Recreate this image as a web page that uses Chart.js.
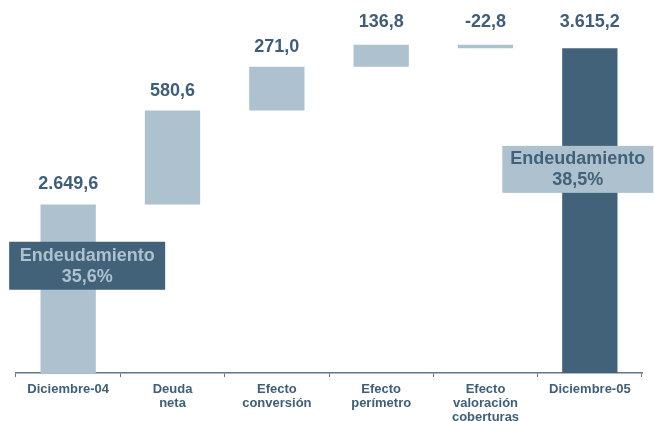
<!DOCTYPE html>
<html>
<head>
<meta charset="utf-8">
<script src="https://cdn.jsdelivr.net/npm/chart.js@4"></script>
<style>
  html, body { margin: 0; padding: 0; background: #fff; }
  #wrap { width: 654px; height: 421px; position: relative; }
</style>
</head>
<body>
<div id="wrap"><canvas id="deudaChart"></canvas></div>
<script>
/* DATA */
var categories = [
  "Diciembre-04",
  ["Deuda", "neta"],
  ["Efecto", "conversión"],
  ["Efecto", "perímetro"],
  ["Efecto", "valoración", "coberturas"],
  "Diciembre-05"
];
var startValue = 2649.6;
var deltas = [580.6, 271.0, 136.8, -22.8];
var endValue = 3615.2;
var ratioLabels = [["Endeudamiento", "35,6%"], ["Endeudamiento", "38,5%"]];

var LIGHT = "#adc1cf";
var DARK = "#426279";
var TEXT = "#3f5f78";

// build floating bars [low, high] from the running total
var bars = [[0, startValue]];
var shown = [startValue];
var total = startValue;
deltas.forEach(function (d) {
  bars.push([total, total + d]);
  shown.push(d);
  total += d;
});
bars.push([0, endValue]);
shown.push(endValue);
var barColors = bars.map(function (b, i) {
  return i === bars.length - 1 ? DARK : LIGHT;
});

// spanish number format: 2.649,6
function fmt(v) {
  var neg = v < 0;
  var parts = Math.abs(v).toFixed(1).split(".");
  var intPart = parts[0].replace(/\B(?=(\d{3})+(?!\d))/g, ".");
  return (neg ? "-" : "") + intPart + "," + parts[1];
}

// value labels above each bar
var valueLabels = {
  id: "valueLabels",
  afterDatasetsDraw: function (chart) {
    var ctx = chart.ctx;
    var meta = chart.getDatasetMeta(0);
    ctx.save();
    ctx.font = "bold 18px 'Liberation Sans', Arial, sans-serif";
    ctx.fillStyle = TEXT;
    ctx.textAlign = "center";
    ctx.textBaseline = "middle";
    meta.data.forEach(function (bar, i) {
      var top = Math.min(bar.y, bar.base);
      var y = top < 60 ? 22 : top - 20;
      ctx.fillText(fmt(shown[i]), bar.x, y);
    });
    ctx.restore();
  }
};

// "Endeudamiento" boxes
var ratioBoxes = {
  id: "ratioBoxes",
  afterDatasetsDraw: function (chart, args, opts) {
    var ctx = chart.ctx;
    var meta = chart.getDatasetMeta(0);
    var yScale = chart.scales.y;
    ctx.save();
    opts.boxes.forEach(function (b, k) {
      var bar = meta.data[b.index];
      var cx = bar.x + b.dx;
      var cy = yScale.getPixelForValue(b.level);
      ctx.fillStyle = b.bg;
      ctx.fillRect(cx - b.w / 2, cy - b.h / 2, b.w, b.h);
      ctx.fillStyle = b.fg;
      ctx.font = "bold 18px 'Liberation Sans', Arial, sans-serif";
      ctx.textAlign = "center";
      ctx.textBaseline = "middle";
      ctx.fillText(ratioLabels[k][0], cx, cy - 10);
      ctx.fillText(ratioLabels[k][1], cx, cy + 11);
    });
    ctx.restore();
  }
};

new Chart("deudaChart", {
  type: "bar",
  data: {
    labels: categories,
    datasets: [
      {
        data: bars,
        backgroundColor: barColors,
        borderWidth: 0,
        barPercentage: 0.53,
        categoryPercentage: 1.0
      }
    ]
  },
  options: {
    responsive: true,
    maintainAspectRatio: false,
    animation: false,
    layout: { padding: { left: 16, right: 12, top: 0, bottom: 0 } },
    plugins: {
      legend: { display: false },
      tooltip: { enabled: false },
      ratioBoxes: {
        boxes: [
          { index: 0, dx: 19, level: 2271, w: 156, h: 48, bg: DARK, fg: LIGHT },
          { index: 5, dx: -12, level: 2867, w: 151, h: 47, bg: LIGHT, fg: DARK }
        ]
      }
    },
    scales: {
      y: {
        display: false,
        min: 1608,
        max: 3914
      },
      x: {
        afterFit: function (scale) { scale.height = 48; },
        border: { display: true, color: "#5f7890", width: 1.5 },
        grid: {
          display: true,
          drawOnChartArea: false,
          drawTicks: true,
          tickLength: 4,
          color: "#5f7890",
          offset: true
        },
        ticks: {
          color: TEXT,
          padding: 5,
          maxRotation: 0,
          autoSkip: false,
          font: { family: "'Liberation Sans', Arial, sans-serif", size: 13, weight: "bold", lineHeight: 1.08 }
        }
      }
    }
  },
  plugins: [valueLabels, ratioBoxes]
});
</script>
</body>
</html>
